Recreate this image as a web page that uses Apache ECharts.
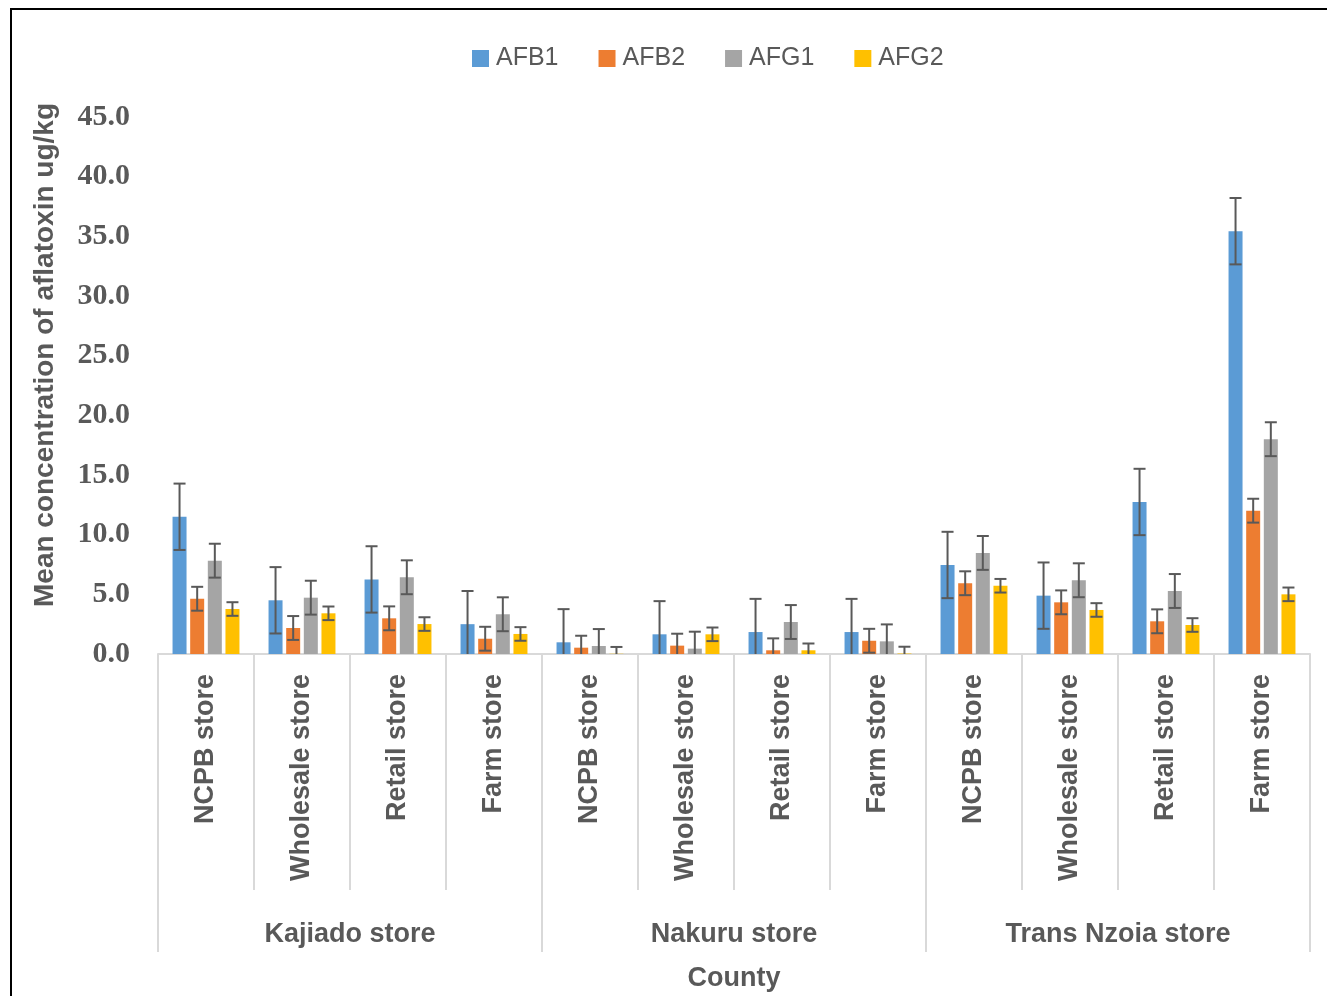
<!DOCTYPE html>
<html>
<head>
<meta charset="utf-8">
<title>Mean concentration of aflatoxin by store</title>
<script src="https://cdn.jsdelivr.net/npm/echarts@6/dist/echarts.min.js"></script>
<style>
  html, body { margin: 0; padding: 0; background: #fff; }
  #chart { width: 1327px; height: 996px; }
</style>
</head>
<body>
<div id="chart"></div>
<script>
// Store types, nested within each county
const stores = [
  'NCPB store', 'Wholesale store', 'Retail store', 'Farm store',
  'NCPB store', 'Wholesale store', 'Retail store', 'Farm store',
  'NCPB store', 'Wholesale store', 'Retail store', 'Farm store'
];
const counties = ['Kajiado store', 'Nakuru store', 'Trans Nzoia store'];

// Mean aflatoxin concentration (ug/kg) per toxin
const seriesNames = ['AFB1', 'AFB2', 'AFG1', 'AFG2'];
const afb1 = [11.5, 4.5, 6.25, 2.5, 0.98, 1.65, 1.84, 1.84, 7.46, 4.89, 12.74, 35.43];
const afb2 = [4.63, 2.18, 2.99, 1.28, 0.53, 0.70, 0.31, 1.11, 5.93, 4.33, 2.74, 12.01];
const afg1 = [7.82, 4.72, 6.43, 3.33, 0.67, 0.45, 2.68, 1.06, 8.47, 6.18, 5.28, 18.0];
const afg2 = [3.77, 3.41, 2.51, 1.68, 0.02, 1.65, 0.31, 0.04, 5.72, 3.69, 2.43, 5.0];
// Standard error per toxin (same for every store)
const stdErr = [2.78, 1.0, 1.42, 0.57];

const yTicks = { min: 0, max: 45, interval: 5 };

const colors = ['#5B9BD5', '#ED7D31', '#A5A5A5', '#FFC000'];
const textGray = '#595959';
const lineGray = '#D9D9D9';
const sans = '"Liberation Sans", Arial, sans-serif';
const serif = '"Liberation Serif", "Times New Roman", serif';

const BAR_W = 14;
const BAR_GAP = 0.26;            // fraction of bar width
const STEP = BAR_W * (1 + BAR_GAP);
const CAP = 12;

const allValues = [afb1, afb2, afg1, afg2];

const chart = echarts.init(document.getElementById('chart'), null, { renderer: 'canvas' });

const barSeries = allValues.map((vals, i) => ({
  name: seriesNames[i],
  type: 'bar',
  data: vals,
  barWidth: BAR_W,
  barGap: (BAR_GAP * 100) + '%',
  itemStyle: { color: colors[i] },
  z: 2
}));

// Error bars drawn on top of each bar column
const errSeries = allValues.map((vals, i) => ({
  name: seriesNames[i] + ' error',
  type: 'custom',
  xAxisIndex: 0,
  yAxisIndex: 0,
  z: 5,
  silent: true,
  data: vals.map((v, k) => [k, v, stdErr[i]]),
  renderItem: function (params, api) {
    const k = api.value(0), v = api.value(1), e = api.value(2);
    const dx = (i - 1.5) * STEP;
    const top = api.coord([k, v + e]);
    const lowVal = v - e;
    const bot = api.coord([k, Math.max(lowVal, 0)]);
    const x = top[0] + dx;
    const style = { stroke: textGray, lineWidth: 2 };
    const children = [
      { type: 'line', shape: { x1: x, y1: top[1], x2: x, y2: bot[1] }, style: style },
      { type: 'line', shape: { x1: x - CAP / 2, y1: top[1], x2: x + CAP / 2, y2: top[1] }, style: style }
    ];
    if (lowVal >= 0) {
      children.push({ type: 'line', shape: { x1: x - CAP / 2, y1: bot[1], x2: x + CAP / 2, y2: bot[1] }, style: style });
    }
    return { type: 'group', children: children };
  }
}));

const option = {
  backgroundColor: '#fff',
  animation: false,
  legend: {
    data: seriesNames,
    top: 41,
    left: 467,
    itemWidth: 17,
    itemHeight: 17,
    itemGap: 40,
    icon: 'rect',
    textStyle: { fontFamily: sans, fontSize: 25, color: textGray, padding: [0, 0, 0, 2] }
  },
  grid: { left: 158, right: 17, top: 117, bottom: 342, containLabel: false, outerBoundsMode: 'none' },
  xAxis: [
    {
      type: 'category',
      data: stores,
      position: 'bottom',
      axisLine: { show: true, lineStyle: { color: lineGray, width: 2 } },
      axisTick: { show: true, length: 236, alignWithLabel: false, lineStyle: { color: lineGray, width: 2 } },
      axisLabel: {
        rotate: 90, margin: 20, interval: 0,
        fontFamily: sans, fontSize: 27, fontWeight: 'bold', color: textGray
      }
    },
    {
      type: 'category',
      data: counties,
      position: 'bottom',
      axisLine: { show: false },
      axisTick: { show: true, length: 298, lineStyle: { color: lineGray, width: 2 } },
      axisLabel: {
        margin: 267, interval: 0,
        fontFamily: sans, fontSize: 27, fontWeight: 'bold', color: textGray
      },
      name: 'County',
      nameLocation: 'middle',
      nameGap: 311,
      nameTextStyle: { fontFamily: sans, fontSize: 27, fontWeight: 'bold', color: textGray }
    }
  ],
  yAxis: {
    type: 'value',
    min: yTicks.min,
    max: yTicks.max,
    interval: yTicks.interval,
    axisLine: { show: false },
    axisTick: { show: false },
    splitLine: { show: false },
    axisLabel: {
      margin: 28,
      formatter: v => v.toFixed(1),
      fontFamily: serif, fontSize: 30, fontWeight: 'bold', color: textGray
    }
  },
  graphic: [
    {
      type: 'rect',
      shape: { x: 11, y: 9, width: 1400, height: 1100 },
      style: { fill: 'none', stroke: '#000', lineWidth: 2 },
      silent: true
    },
    {
      type: 'text',
      x: 45,
      y: 355,
      rotation: Math.PI / 2,
      style: {
        text: 'Mean concentration of aflatoxin ug/kg',
        fontFamily: sans, fontSize: 28, fontWeight: 'bold', fill: textGray,
        align: 'center', verticalAlign: 'middle'
      }
    }
  ],
  series: barSeries.concat(errSeries)
};

chart.setOption(option);
</script>
</body>
</html>
